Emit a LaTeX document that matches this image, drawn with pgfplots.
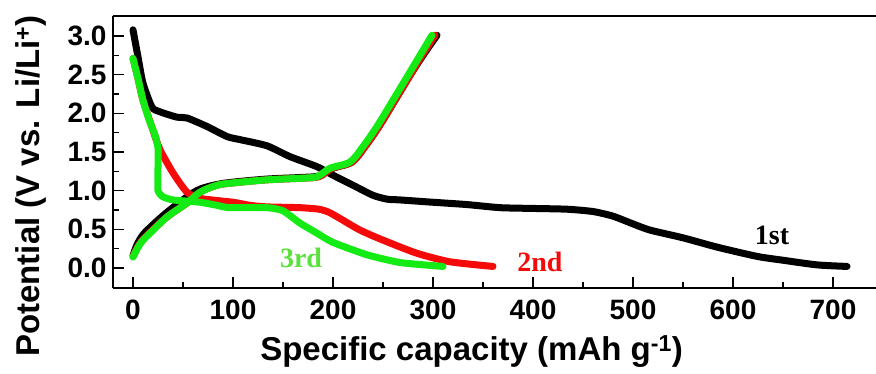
\documentclass[border=0pt]{standalone}
\usepackage{fontspec}
\setmainfont{Liberation Sans}
\newfontfamily\seriffont{Liberation Serif}
\usepackage{pgfplots}
\pgfplotsset{compat=1.18}
\definecolor{myred}{RGB}{245,10,10}
\definecolor{mygreen}{RGB}{20,235,20}
\definecolor{lblgreen}{RGB}{90,225,60}
\begin{document}
\begin{tikzpicture}
\begin{axis}[
  scale only axis,
  width=763pt, height=272pt,
  xmin=-20, xmax=743,
  ymin=-0.259, ymax=3.259,
  axis x line*=box, axis y line*=left,
  xtick={0,100,...,700},
  ytick={0,0.5,...,3.0},
  minor x tick num=1,
  minor y tick num=1,
  xtick pos=bottom, ytick pos=left,
  tick align=inside,
  major tick length=11pt,
  minor tick length=6pt,
  every tick/.style={black, line width=1.6pt},
  axis line style={line width=1.8pt},
  /pgf/number format/assume math mode=true,
  yticklabel style={/pgf/number format/fixed, /pgf/number format/fixed zerofill, /pgf/number format/precision=1},
  ticklabel style={font=\fontsize{28}{28}\selectfont\bfseries},
  xticklabel style={yshift=-8pt},
  yticklabel style={xshift=-3pt},
  xlabel={Specific capacity (mAh g\textsuperscript{-1})},
  ylabel={Potential (V vs. Li/Li\textsuperscript{+})},
  every axis x label/.style={at={(rel axis cs:0.47,0)}, anchor=center, yshift=-64pt, font=\fontsize{33}{33}\selectfont\bfseries},
  every axis y label/.style={at={(rel axis cs:0,0.375)}, anchor=center, xshift=-82pt, rotate=90, font=\fontsize{33}{33}\selectfont\bfseries},
  clip=false,
]
\coordinate (SW) at (rel axis cs:0,0);
\coordinate (NE) at (rel axis cs:1,1);
% 1st discharge
\addplot[black, line width=7pt, line cap=round, line join=round, smooth, tension=0.4] coordinates {
(0,3.08) (5,2.73) (10,2.39) (19,2.08) (27,2.02) (44,1.95) (54,1.94) (74,1.83) (94,1.70) (107,1.66)
(134,1.58) (157,1.44) (184,1.31) (200,1.20) (220,1.07) (240,0.94) (254,0.89) (267,0.88) (300,0.85)
(334,0.82) (367,0.78) (400,0.77) (434,0.76) (460,0.73) (480,0.67) (500,0.57) (517,0.49) (550,0.39)
(584,0.27) (624,0.15) (650,0.10) (684,0.04) (714,0.02)
};
% 1st charge
\addplot[black, line width=7pt, line cap=round, line join=round, smooth, tension=0.5] coordinates {
(0,0.16) (4,0.30) (10,0.43) (20,0.56) (34,0.72) (54,0.92) (67,1.02) (84,1.08) (100,1.11) (134,1.15) (167,1.17)
(186,1.19) (200,1.29) (219,1.37) (232,1.57) (246,1.83) (262,2.17) (276,2.47) (290,2.75) (304,3.01)
};
% 2nd discharge
\addplot[myred, line width=7pt, line cap=round, line join=round, smooth, tension=0.4] coordinates {
(0,2.71) (5,2.45) (10,2.17) (20,1.78) (27,1.53) (40,1.23) (54,0.98) (67,0.90) (100,0.85) (117,0.81)
(134,0.79) (167,0.78) (186,0.76) (196,0.72) (207,0.64) (227,0.49) (250,0.36) (284,0.19) (317,0.08) (360,0.02)
};
% 2nd charge
\addplot[myred, line width=7pt, line cap=round, line join=round, smooth, tension=0.5] coordinates {
(0,0.15) (5,0.28) (10,0.37) (17,0.46) (34,0.66) (54,0.84) (67,0.98) (84,1.07) (100,1.10) (134,1.14) (167,1.16)
(186,1.18) (199,1.29) (219,1.37) (232,1.57) (246,1.83) (262,2.17) (276,2.47) (289,2.75) (302,3.01)
};
% 3rd discharge
\addplot[mygreen, line width=7pt, line cap=round, line join=round, smooth, tension=0.3] coordinates {
(0,2.71) (5,2.45) (10,2.17) (16,1.92) (22,1.72) (25,1.55) (25,1.30) (25,1.00) (30,0.92) (40,0.88) (67,0.85)
(84,0.81) (96,0.78) (134,0.78) (150,0.74) (167,0.58) (184,0.45) (200,0.33) (234,0.17) (267,0.07) (310,0.02)
};
% 3rd charge
\addplot[mygreen, line width=7pt, line cap=round, line join=round, smooth, tension=0.5] coordinates {
(0,0.14) (5,0.27) (10,0.36) (17,0.45) (34,0.66) (54,0.84) (67,0.98) (84,1.07) (100,1.10) (134,1.14) (167,1.16)
(184,1.18) (197,1.29) (217,1.37) (230,1.57) (244,1.83) (260,2.17) (274,2.47) (287,2.75) (299,3.01)
};
\node[anchor=base, font=\fontsize{28}{28}\selectfont\seriffont\bfseries, text=black] at (axis cs:639,0.30) {1st};
\node[anchor=base, font=\fontsize{28}{28}\selectfont\seriffont\bfseries, text=myred] at (axis cs:407,-0.05) {2nd};
\node[anchor=base, font=\fontsize{28}{28}\selectfont\seriffont\bfseries, text=lblgreen] at (axis cs:168,0.0) {3rd};
\end{axis}
\pgfresetboundingbox
\path ([shift={(-113pt,-86pt)}]SW) rectangle ([shift={(0pt,16pt)}]NE);
\end{tikzpicture}
\end{document}
